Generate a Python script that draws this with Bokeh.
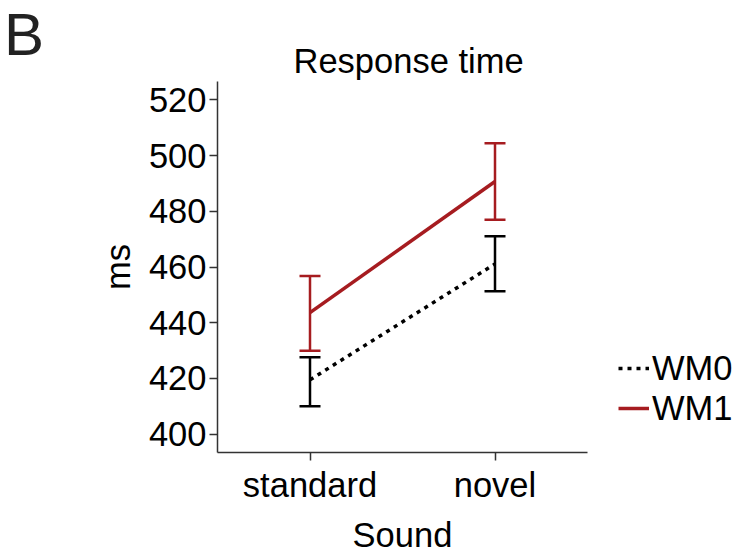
from bokeh.plotting import figure
from bokeh.models import (ColumnDataSource, FactorRange, Range1d, Whisker, TeeHead,
                          Legend, LegendItem, Div)
from bokeh.layouts import row
from bokeh.embed import file_html
from bokeh.resources import INLINE

# ---- data ----
sound = ["standard", "novel"]
wm0_mean = [419.5, 461.1]
wm0_lower = [410.0, 451.3]
wm0_upper = [427.6, 471.0]
wm1_mean = [443.6, 490.7]
wm1_lower = [429.9, 477.0]
wm1_upper = [456.8, 504.4]
y_ticks = [400, 420, 440, 460, 480, 500, 520]

FONT = "Liberation Sans"
FS = "34.5px"
RED = "#A61C20"
BLACK = "#000000"
AXIS = "#333333"

src0 = ColumnDataSource(dict(x=sound, y=wm0_mean, lower=wm0_lower, upper=wm0_upper))
src1 = ColumnDataSource(dict(x=sound, y=wm1_mean, lower=wm1_lower, upper=wm1_upper))

p = figure(x_range=FactorRange(*sound, range_padding=0),
           y_range=Range1d(393.4, 526.6),
           frame_width=370, frame_height=371,
           min_border_left=157, min_border_right=149,
           min_border_top=81, min_border_bottom=101,
           output_backend="svg", toolbar_location=None,
           title="Response time")

p.outline_line_color = None
p.background_fill_color = "white"
p.border_fill_color = "white"
p.xgrid.grid_line_color = None
p.ygrid.grid_line_color = None

p.title.text_font = FONT
p.title.text_font_size = FS
p.title.text_font_style = "normal"
p.title.text_color = "black"
p.title.align = "left"
p.title.offset = 76
p.title.standoff = 4

for ax in (p.xaxis[0], p.yaxis[0]):
    ax.axis_line_color = AXIS
    ax.axis_line_width = 1.5
    ax.major_tick_line_color = AXIS
    ax.major_tick_line_width = 1.5
    ax.major_tick_out = 8
    ax.major_tick_in = 0
    ax.minor_tick_line_color = None
    ax.major_label_text_font = FONT
    ax.major_label_text_font_size = FS
    ax.major_label_text_color = "black"
    ax.axis_label_text_font = FONT
    ax.axis_label_text_font_size = FS
    ax.axis_label_text_font_style = "normal"
    ax.axis_label_text_color = "black"

p.yaxis.ticker = y_ticks
p.yaxis.major_label_standoff = 3
p.yaxis.axis_label = "ms"
p.yaxis.axis_label_standoff = 9
p.xaxis.major_label_standoff = 5
p.xaxis.axis_label = "Sound"
p.xaxis.axis_label_standoff = 9

# lines
l0 = p.line("x", "y", source=src0, line_color=BLACK, line_width=3.5,
            line_dash="4 5")
l1 = p.line("x", "y", source=src1, line_color=RED, line_width=3.5)

# error bars
for src, col in ((src0, BLACK), (src1, RED)):
    w = Whisker(base="x", lower="lower", upper="upper", source=src,
                dimension="height", line_color=col, line_width=2.5,
                upper_head=TeeHead(size=21, line_color=col, line_width=2.5),
                lower_head=TeeHead(size=21, line_color=col, line_width=2.5))
    p.add_layout(w)

legend = Legend(items=[LegendItem(label="WM0", renderers=[l0]),
                       LegendItem(label="WM1", renderers=[l1])],
                location=(31, 24), orientation="vertical",
                padding=0, margin=0, spacing=0,
                glyph_width=31, glyph_height=40, label_height=40,
                label_standoff=3,
                border_line_color=None, background_fill_alpha=0,
                label_text_font=FONT, label_text_font_size=FS,
                label_text_color="black")
p.add_layout(legend, "right")

panel_label = Div(text="B", width=60, height=553, margin=0,
                  styles={"font-family": FONT, "font-size": "60px",
                          "line-height": "normal", "color": "#222222",
                          "padding-left": "4px", "padding-top": "0px",
                          "background": "white"})

layout = row(panel_label, p, spacing=0)

open("out.html", "w").write(file_html(layout, INLINE))
